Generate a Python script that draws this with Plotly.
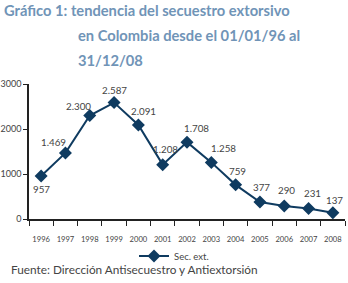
import plotly.graph_objects as go

years = [1996, 1997, 1998, 1999, 2000, 2001, 2002, 2003, 2004, 2005, 2006, 2007, 2008]
values = [957, 1469, 2300, 2587, 2091, 1208, 1708, 1258, 759, 377, 290, 231, 137]
labels = ["957", "1.469", "2.300", "2.587", "2.091", "1.208", "1.708", "1.258", "759", "377", "290", "231", "137"]
series_name = "Sec. ext."
title_lines = ["Gráfico 1: tendencia del secuestro extorsivo", "en Colombia desde el 01/01/96 al", "31/12/08"]
source = "Fuente: Dirección Antisecuestro y Antiextorsión"

# label offsets (pixels) - styling only
xshift = [0, -12, -11, 0, 5, 3, 9, 12, 2, 2, 2, 4, 2]
yshift = [-13, 11, 10, 13, 14, 16, 14, 14, 14, 15, 16, 16, 13]

LINE = "#0f3b60"
TITLE = "#7094b7"
TXT = "#444444"
FONT = "Lato"

fig = go.Figure()
fig.add_trace(go.Scatter(
    x=years, y=values, mode="lines+markers", name=series_name,
    line=dict(color=LINE, width=2),
    marker=dict(symbol="diamond", size=10, color=LINE),
))

for xi, yi, lab, dx, dy in zip(years, values, labels, xshift, yshift):
    fig.add_annotation(x=xi, y=yi, text=lab, showarrow=False, xshift=dx, yshift=dy,
                       font=dict(family=FONT, size=9.8, color=TXT))

H = 135.0
W = 316.0
def px2paper_y(py):
    return (219 - py) / H
def px2paper_x(px):
    return (px - 29) / W

title_pos = [(2, 10), (76, 35), (76, 60)]
for (tx, ty), line in zip(title_pos, title_lines):
    fig.add_annotation(xref="paper", yref="paper", x=px2paper_x(tx), y=px2paper_y(ty),
                       xanchor="left", yanchor="middle", text=line, showarrow=False,
                       font=dict(family=FONT, size=14.7, color=TITLE, weight="bold"))

fig.add_annotation(xref="paper", yref="paper", x=px2paper_x(9), y=px2paper_y(269),
                   xanchor="left", yanchor="middle", text=source, showarrow=False,
                   font=dict(family=FONT, size=11.8, color=TXT))

fig.update_layout(
    width=348, height=283,
    margin=dict(l=29, r=3, t=84, b=64, autoexpand=False),
    paper_bgcolor="white", plot_bgcolor="white",
    showlegend=True,
    legend=dict(orientation="h", xref="container", yref="container",
                x=0.5, y=(283 - 256) / 283, xanchor="center", yanchor="middle",
                font=dict(family=FONT, size=9.5, color=TXT), bgcolor="rgba(0,0,0,0)",
                itemwidth=30, tracegroupgap=0),
    font=dict(family=FONT, color=TXT),
)
fig.update_xaxes(range=[1995.5, 2008.5], tickvals=years, ticktext=[str(y) for y in years],
                 showgrid=False, showline=True, linecolor="#222", linewidth=1.5,
                 ticks="", tickfont=dict(size=7.6, color=TXT), zeroline=False,
                 ticklabelstandoff=12, automargin=False,
                 minor=dict(tick0=1995.5, dtick=1, ticks="outside", ticklen=5,
                            tickcolor="#222", tickwidth=1.2, showgrid=False))
fig.update_yaxes(range=[0, 3000], tickvals=[0, 1000, 2000, 3000], showgrid=False,
                 showline=True, linecolor="#222", linewidth=1.5, automargin=False,
                 ticks="outside", ticklen=4, tickcolor="#222",
                 tickfont=dict(size=9, color=TXT), zeroline=False)

fig.write_html("out.html", config={"displayModeBar": False},
               post_script="document.body.style.margin='0px';document.body.style.overflow='hidden';")
